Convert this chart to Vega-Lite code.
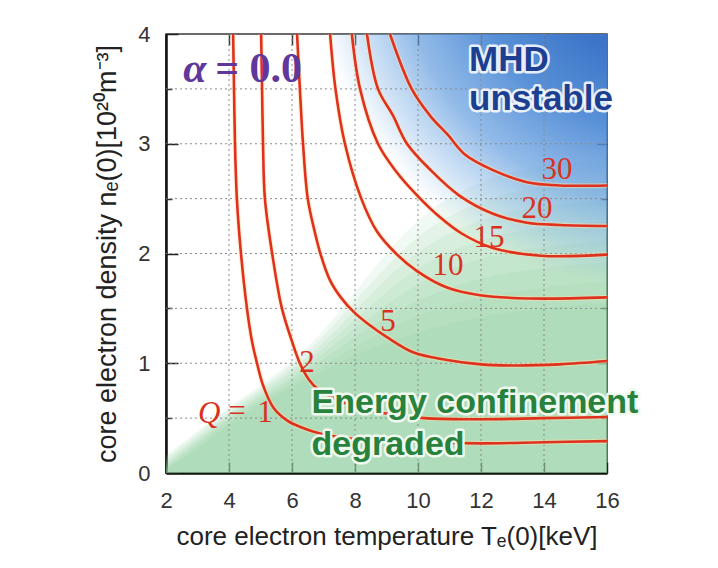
{
 "$schema": "https://vega.github.io/schema/vega-lite/v6.json",
 "width": 441, "height": 439,
 "autosize": {"type": "none"},
 "padding": {"left": 166, "top": 34, "right": 111, "bottom": 95},
 "background": "white",
 "config": {"view": {"stroke": "#3a3a3a", "strokeWidth": 1.5, "fill": "white"}, "font": "Liberation Sans"},
 "resolve": {"axis": {"x": "independent", "y": "independent"}},
 "datasets": {
  "green": [
   {"b":"g1","T":2,"n":0.16},{"b":"g1","T":3,"n":0.38},{"b":"g1","T":4,"n":0.6},{"b":"g1","T":5,"n":0.8},{"b":"g1","T":6,"n":1.02},{"b":"g1","T":7,"n":1.3},{"b":"g1","T":8,"n":1.65},{"b":"g1","T":9,"n":2.0},{"b":"g1","T":10,"n":2.3},{"b":"g1","T":12,"n":2.65},{"b":"g1","T":14,"n":2.8},{"b":"g1","T":16,"n":2.85},
   {"b":"g2","T":2,"n":0.14},{"b":"g2","T":3,"n":0.36},{"b":"g2","T":4,"n":0.58},{"b":"g2","T":5,"n":0.77},{"b":"g2","T":6,"n":0.99},{"b":"g2","T":7,"n":1.25},{"b":"g2","T":8,"n":1.57},{"b":"g2","T":9,"n":1.88},{"b":"g2","T":10,"n":2.15},{"b":"g2","T":12,"n":2.47},{"b":"g2","T":14,"n":2.61},{"b":"g2","T":16,"n":2.66},
   {"b":"g3","T":2,"n":0.11},{"b":"g3","T":3,"n":0.33},{"b":"g3","T":4,"n":0.55},{"b":"g3","T":5,"n":0.75},{"b":"g3","T":6,"n":0.95},{"b":"g3","T":7,"n":1.19},{"b":"g3","T":8,"n":1.48},{"b":"g3","T":9,"n":1.77},{"b":"g3","T":10,"n":2.01},{"b":"g3","T":12,"n":2.3},{"b":"g3","T":14,"n":2.43},{"b":"g3","T":16,"n":2.48},
   {"b":"g4","T":2,"n":0.09},{"b":"g4","T":3,"n":0.31},{"b":"g4","T":4,"n":0.53},{"b":"g4","T":5,"n":0.72},{"b":"g4","T":6,"n":0.92},{"b":"g4","T":7,"n":1.14},{"b":"g4","T":8,"n":1.4},{"b":"g4","T":9,"n":1.65},{"b":"g4","T":10,"n":1.86},{"b":"g4","T":12,"n":2.12},{"b":"g4","T":14,"n":2.24},{"b":"g4","T":16,"n":2.29},
   {"b":"g5","T":2,"n":0.07},{"b":"g5","T":3,"n":0.29},{"b":"g5","T":4,"n":0.51},{"b":"g5","T":5,"n":0.7},{"b":"g5","T":6,"n":0.88},{"b":"g5","T":7,"n":1.09},{"b":"g5","T":8,"n":1.32},{"b":"g5","T":9,"n":1.53},{"b":"g5","T":10,"n":1.72},{"b":"g5","T":12,"n":1.95},{"b":"g5","T":14,"n":2.06},{"b":"g5","T":16,"n":2.11},
   {"b":"g6","T":2,"n":0.05},{"b":"g6","T":3,"n":0.27},{"b":"g6","T":4,"n":0.49},{"b":"g6","T":5,"n":0.67},{"b":"g6","T":6,"n":0.85},{"b":"g6","T":7,"n":1.04},{"b":"g6","T":8,"n":1.24},{"b":"g6","T":9,"n":1.42},{"b":"g6","T":10,"n":1.57},{"b":"g6","T":12,"n":1.77},{"b":"g6","T":14,"n":1.87},{"b":"g6","T":16,"n":1.92},
   {"b":"g7","T":2,"n":0.04},{"b":"g7","T":3,"n":0.24},{"b":"g7","T":4,"n":0.46},{"b":"g7","T":5,"n":0.65},{"b":"g7","T":6,"n":0.81},{"b":"g7","T":7,"n":0.98},{"b":"g7","T":8,"n":1.15},{"b":"g7","T":9,"n":1.3},{"b":"g7","T":10,"n":1.43},{"b":"g7","T":12,"n":1.6},{"b":"g7","T":14,"n":1.69},{"b":"g7","T":16,"n":1.74},
   {"b":"g8","T":2,"n":0.03},{"b":"g8","T":3,"n":0.22},{"b":"g8","T":4,"n":0.44},{"b":"g8","T":5,"n":0.62},{"b":"g8","T":6,"n":0.78},{"b":"g8","T":7,"n":0.93},{"b":"g8","T":8,"n":1.07},{"b":"g8","T":9,"n":1.18},{"b":"g8","T":10,"n":1.28},{"b":"g8","T":12,"n":1.42},{"b":"g8","T":14,"n":1.5},{"b":"g8","T":16,"n":1.55}
  ],
  "frame": [{"T0": 2, "T1": 16, "n0": 0, "n1": 4}],
  "vgrid": [{"T":4},{"T":6},{"T":8},{"T":10},{"T":12},{"T":14}],
  "hgrid": [{"n":0.5},{"n":1},{"n":1.5},{"n":2},{"n":2.5},{"n":3},{"n":3.5}],
  "curves": [
   {"Q":1,"i":0,"T":4.13,"n":4.0},{"Q":1,"i":1,"T":4.16,"n":3.5},{"Q":1,"i":2,"T":4.19,"n":3.0},{"Q":1,"i":3,"T":4.25,"n":2.5},{"Q":1,"i":4,"T":4.38,"n":2.0},{"Q":1,"i":5,"T":4.57,"n":1.5},{"Q":1,"i":6,"T":4.73,"n":1.2},{"Q":1,"i":7,"T":4.89,"n":1.0},{"Q":1,"i":8,"T":5.08,"n":0.8},{"Q":1,"i":9,"T":5.4,"n":0.6},{"Q":1,"i":10,"T":5.84,"n":0.48},{"Q":1,"i":11,"T":6.35,"n":0.41},{"Q":1,"i":12,"T":6.89,"n":0.36},{"Q":1,"i":13,"T":8.0,"n":0.31},{"Q":1,"i":14,"T":10.0,"n":0.28},{"Q":1,"i":15,"T":12.0,"n":0.27},{"Q":1,"i":16,"T":14.0,"n":0.28},{"Q":1,"i":17,"T":16.0,"n":0.29},
   {"Q":2,"i":0,"T":5.02,"n":4.0},{"Q":2,"i":1,"T":5.05,"n":3.5},{"Q":2,"i":2,"T":5.08,"n":3.0},{"Q":2,"i":3,"T":5.14,"n":2.5},{"Q":2,"i":4,"T":5.37,"n":2.0},{"Q":2,"i":5,"T":5.68,"n":1.5},{"Q":2,"i":6,"T":6.0,"n":1.2},{"Q":2,"i":7,"T":6.25,"n":1.0},{"Q":2,"i":8,"T":6.54,"n":0.85},{"Q":2,"i":9,"T":6.8,"n":0.77},{"Q":2,"i":10,"T":7.4,"n":0.67},{"Q":2,"i":11,"T":8.5,"n":0.57},{"Q":2,"i":12,"T":10.2,"n":0.5},{"Q":2,"i":13,"T":12.0,"n":0.49},{"Q":2,"i":14,"T":14.0,"n":0.5},{"Q":2,"i":15,"T":16.0,"n":0.51},
   {"Q":5,"i":0,"T":6.16,"n":4.0},{"Q":5,"i":1,"T":6.25,"n":3.5},{"Q":5,"i":2,"T":6.35,"n":3.0},{"Q":5,"i":3,"T":6.5,"n":2.5},{"Q":5,"i":4,"T":6.72,"n":2.2},{"Q":5,"i":5,"T":6.9,"n":2.0},{"Q":5,"i":6,"T":7.2,"n":1.76},{"Q":5,"i":7,"T":7.55,"n":1.6},{"Q":5,"i":8,"T":7.95,"n":1.47},{"Q":5,"i":9,"T":8.45,"n":1.35},{"Q":5,"i":10,"T":9.0,"n":1.24},{"Q":5,"i":11,"T":9.84,"n":1.1},{"Q":5,"i":12,"T":10.92,"n":1.03},{"Q":5,"i":13,"T":12.0,"n":0.99},{"Q":5,"i":14,"T":13.0,"n":0.98},{"Q":5,"i":15,"T":14.5,"n":0.99},{"Q":5,"i":16,"T":16.0,"n":1.02},
   {"Q":10,"i":0,"T":7.21,"n":4.0},{"Q":10,"i":1,"T":7.38,"n":3.5},{"Q":10,"i":2,"T":7.68,"n":3.0},{"Q":10,"i":3,"T":8.2,"n":2.5},{"Q":10,"i":4,"T":8.7,"n":2.2},{"Q":10,"i":5,"T":9.3,"n":2.0},{"Q":10,"i":6,"T":9.97,"n":1.84},{"Q":10,"i":7,"T":10.92,"n":1.69},{"Q":10,"i":8,"T":11.97,"n":1.62},{"Q":10,"i":9,"T":13.5,"n":1.59},{"Q":10,"i":10,"T":16.0,"n":1.6},
   {"Q":15,"i":0,"T":7.9,"n":4.0},{"Q":15,"i":1,"T":8.16,"n":3.5},{"Q":15,"i":2,"T":8.73,"n":3.0},{"Q":15,"i":3,"T":9.3,"n":2.75},{"Q":15,"i":4,"T":9.97,"n":2.53},{"Q":15,"i":5,"T":10.7,"n":2.33},{"Q":15,"i":6,"T":11.4,"n":2.18},{"Q":15,"i":7,"T":12.38,"n":2.05},{"Q":15,"i":8,"T":13.9,"n":1.98},{"Q":15,"i":9,"T":16.0,"n":1.99},
   {"Q":20,"i":0,"T":8.38,"n":4.0},{"Q":20,"i":1,"T":8.73,"n":3.5},{"Q":20,"i":2,"T":9.2,"n":3.26},{"Q":20,"i":3,"T":9.65,"n":3.0},{"Q":20,"i":4,"T":10.4,"n":2.76},{"Q":20,"i":5,"T":11.3,"n":2.53},{"Q":20,"i":6,"T":12.4,"n":2.36},{"Q":20,"i":7,"T":13.46,"n":2.28},{"Q":20,"i":8,"T":14.5,"n":2.26},{"Q":20,"i":9,"T":16.0,"n":2.25},
   {"Q":30,"i":0,"T":9.11,"n":4.0},{"Q":30,"i":1,"T":9.8,"n":3.5},{"Q":30,"i":2,"T":10.4,"n":3.25},{"Q":30,"i":3,"T":10.95,"n":3.08},{"Q":30,"i":4,"T":11.5,"n":2.9},{"Q":30,"i":5,"T":12.38,"n":2.76},{"Q":30,"i":6,"T":13.46,"n":2.65},{"Q":30,"i":7,"T":14.5,"n":2.62},{"Q":30,"i":8,"T":16.0,"n":2.62}
  ],
  "nums": [
   {"t":"30","T":14.41,"n":2.76},{"t":"20","T":13.78,"n":2.41},{"t":"15","T":12.25,"n":2.14},{"t":"10","T":10.95,"n":1.89},{"t":"5","T":9.05,"n":1.38},{"t":"2","T":6.48,"n":1.0},{"t":"1","T":5.14,"n":0.55},{"t":"=","T":4.25,"n":0.56}
  ],
  "notes": [
   {"kind":"q","t":"Q","T":3.37,"n":0.54},
   {"kind":"alpha","t":"α","T":2.55,"n":3.56},
   {"kind":"alpha0","t":"= 0.0","T":3.56,"n":3.56},
   {"kind":"mhd","t":"MHD","T":11.62,"n":3.66},
   {"kind":"mhd","t":"unstable","T":11.62,"n":3.31},
   {"kind":"energy","t":"Energy confinement","T":6.62,"n":0.547},
   {"kind":"energy","t":"degraded","T":6.62,"n":0.164}
  ]
 },
 "layer": [
  {
   "data": {"name": "green"},
   "mark": {"type": "area", "interpolate": "monotone", "color": "#8bcf9c"},
   "encoding": {
    "x": {"field": "T", "type": "quantitative", "scale": {"domain": [2, 16], "nice": false, "zero": false},
     "axis": {"orient": "bottom", "values": [2,4,6,8,10,12,14,16], "tickSize": -11, "tickWidth": 1.5, "tickColor": "#222", "domainColor": "#111", "domainWidth": 2.5, "labelFontSize": 22, "labelColor": "#333", "labelPadding": 28, "labelFont": "Liberation Sans", "labelFlush": false, "grid": false,
      "title": "core electron temperature Tₑ(0)[keV]", "titleFont": "Liberation Sans", "titleFontSize": 26, "titleFontWeight": "normal", "titleColor": "#222", "titlePadding": 12}},
    "y": {"field": "n", "type": "quantitative", "stack": null, "scale": {"domain": [0, 4], "nice": false},
     "axis": {"orient": "left", "values": [0,1,2,3,4], "tickSize": -12, "tickWidth": 1.5, "tickColor": "#222", "domainColor": "#111", "domainWidth": 2.5, "labelFontSize": 22, "labelColor": "#333", "labelPadding": 28, "labelFont": "Liberation Sans", "labelFlush": false, "grid": false,
      "title": "core electron density nₑ(0)[10²⁰m⁻³]", "titleFont": "Liberation Sans", "titleFontSize": 27, "titleFontWeight": "normal", "titleColor": "#222", "titlePadding": 16}},
    "y2": {"datum": 0},
    "detail": {"field": "b"},
    "opacity": {"field": "b", "type": "ordinal", "scale": {"domain": ["g1","g2","g3","g4","g5","g6","g7","g8"], "range": [0.125,0.143,0.167,0.2,0.25,0.333,0.5,1]}, "legend": null}
   }
  },
  {
   "data": {"name": "frame"},
   "mark": {"type": "rect", "color": {"gradient": "radial", "x1": 1.12, "y1": -0.213, "r1": 0, "x2": 1.12, "y2": -0.213, "r2": 0.794,
     "stops": [{"offset": 0, "color": "#356cc0"}, {"offset": 0.35, "color": "#3d76c8"}, {"offset": 0.55, "color": "rgba(74,135,212,0.92)"}, {"offset": 0.75, "color": "rgba(88,150,220,0.65)"}, {"offset": 0.9, "color": "rgba(110,168,228,0.3)"}, {"offset": 1, "color": "rgba(130,180,232,0)"}]}},
   "encoding": {
    "x": {"field": "T0", "type": "quantitative", "scale": {"domain": [2, 16], "nice": false, "zero": false},
     "axis": {"orient": "top", "values": [4,6,8,10,12,14], "tickSize": -11, "tickWidth": 1.5, "tickColor": "#333", "domain": false, "labels": false, "title": null, "grid": false}},
    "x2": {"field": "T1"},
    "y": {"field": "n0", "type": "quantitative", "scale": {"domain": [0, 4], "nice": false},
     "axis": {"orient": "left", "values": [0.5,1.5,2.5,3.5], "tickSize": -6, "tickWidth": 1.5, "tickColor": "#333", "domain": false, "labels": false, "title": null, "grid": false}},
    "y2": {"field": "n1"}
   }
  },
  {
   "data": {"name": "vgrid"},
   "mark": {"type": "rule", "color": "#8a8a8a", "strokeWidth": 1, "strokeDash": [2, 3]},
   "encoding": {"x": {"field": "T", "type": "quantitative", "scale": {"domain": [2, 16], "nice": false, "zero": false}, "axis": null}}
  },
  {
   "data": {"name": "hgrid"},
   "mark": {"type": "rule", "color": "#8a8a8a", "strokeWidth": 1, "strokeDash": [2, 3]},
   "encoding": {"y": {"field": "n", "type": "quantitative", "scale": {"domain": [0, 4], "nice": false},
     "axis": {"orient": "right", "values": [1,2,3], "tickSize": -10, "tickWidth": 1.5, "tickColor": "#333", "domain": false, "labels": false, "title": null, "grid": false}}}
  },
  {
   "data": {"name": "curves"},
   "mark": {"type": "line", "interpolate": "catmull-rom", "color": "#ffe0a8", "strokeWidth": 5, "opacity": 0.45},
   "encoding": {
    "x": {"field": "T", "type": "quantitative", "scale": {"domain": [2, 16], "nice": false, "zero": false}, "axis": null},
    "y": {"field": "n", "type": "quantitative", "scale": {"domain": [0, 4], "nice": false}, "axis": null},
    "detail": {"field": "Q"},
    "order": {"field": "i", "type": "quantitative"}
   }
  },
  {
   "data": {"name": "curves"},
   "mark": {"type": "line", "interpolate": "catmull-rom", "color": "#e0301e", "strokeWidth": 2.6},
   "encoding": {
    "x": {"field": "T", "type": "quantitative", "scale": {"domain": [2, 16], "nice": false, "zero": false}, "axis": null},
    "y": {"field": "n", "type": "quantitative", "scale": {"domain": [0, 4], "nice": false},
     "axis": {"orient": "right", "values": [0.5,1.5,2.5,3.5], "tickSize": -6, "tickWidth": 1.5, "tickColor": "#333", "domain": false, "labels": false, "title": null, "grid": false}},
    "detail": {"field": "Q"},
    "order": {"field": "i", "type": "quantitative"}
   }
  },
  {
   "data": {"name": "nums"},
   "mark": {"type": "text", "font": "Liberation Serif", "fontSize": 31, "color": "#d8321f", "align": "center", "baseline": "middle"},
   "encoding": {
    "x": {"field": "T", "type": "quantitative", "scale": {"domain": [2, 16], "nice": false, "zero": false}, "axis": null},
    "y": {"field": "n", "type": "quantitative", "scale": {"domain": [0, 4], "nice": false}, "axis": null},
    "text": {"field": "t"}
   }
  },
  {
   "data": {"name": "notes"},
   "transform": [{"filter": "datum.kind == 'q'"}],
   "mark": {"type": "text", "font": "Liberation Serif", "fontSize": 31, "fontStyle": "italic", "color": "#d8321f", "align": "center", "baseline": "middle"},
   "encoding": {
    "x": {"field": "T", "type": "quantitative", "scale": {"domain": [2, 16], "nice": false, "zero": false}, "axis": null},
    "y": {"field": "n", "type": "quantitative", "scale": {"domain": [0, 4], "nice": false}, "axis": null},
    "text": {"field": "t"}
   }
  },
  {
   "data": {"name": "notes"},
   "transform": [{"filter": "datum.kind == 'alpha'"}],
   "mark": {"type": "text", "font": "Liberation Serif", "fontSize": 42, "fontStyle": "italic", "fontWeight": "bold", "color": "#60389c", "align": "left", "baseline": "alphabetic"},
   "encoding": {
    "x": {"field": "T", "type": "quantitative", "scale": {"domain": [2, 16], "nice": false, "zero": false}, "axis": null},
    "y": {"field": "n", "type": "quantitative", "scale": {"domain": [0, 4], "nice": false}, "axis": null},
    "text": {"field": "t"}
   }
  },
  {
   "data": {"name": "notes"},
   "transform": [{"filter": "datum.kind == 'alpha0'"}],
   "mark": {"type": "text", "font": "Liberation Serif", "fontSize": 42, "fontWeight": "bold", "color": "#60389c", "align": "left", "baseline": "alphabetic"},
   "encoding": {
    "x": {"field": "T", "type": "quantitative", "scale": {"domain": [2, 16], "nice": false, "zero": false}, "axis": null},
    "y": {"field": "n", "type": "quantitative", "scale": {"domain": [0, 4], "nice": false}, "axis": null},
    "text": {"field": "t"}
   }
  },
  {
   "data": {"name": "notes"},
   "transform": [{"filter": "datum.kind == 'mhd'"}],
   "mark": {"type": "text", "font": "Liberation Sans", "fontSize": 35, "fontWeight": "bold", "fill": "white", "stroke": "white", "strokeWidth": 5, "strokeJoin": "round", "strokeOpacity": 0.85, "align": "left", "baseline": "alphabetic"},
   "encoding": {
    "x": {"field": "T", "type": "quantitative", "scale": {"domain": [2, 16], "nice": false, "zero": false}, "axis": null},
    "y": {"field": "n", "type": "quantitative", "scale": {"domain": [0, 4], "nice": false}, "axis": null},
    "text": {"field": "t"}
   }
  },
  {
   "data": {"name": "notes"},
   "transform": [{"filter": "datum.kind == 'mhd'"}],
   "mark": {"type": "text", "font": "Liberation Sans", "fontSize": 35, "fontWeight": "bold", "color": "#1c3f91", "align": "left", "baseline": "alphabetic"},
   "encoding": {
    "x": {"field": "T", "type": "quantitative", "scale": {"domain": [2, 16], "nice": false, "zero": false}, "axis": null},
    "y": {"field": "n", "type": "quantitative", "scale": {"domain": [0, 4], "nice": false}, "axis": null},
    "text": {"field": "t"}
   }
  },
  {
   "data": {"name": "notes"},
   "transform": [{"filter": "datum.kind == 'energy'"}],
   "mark": {"type": "text", "font": "Liberation Sans", "fontSize": 34, "fontWeight": "bold", "fill": "#eef8ee", "stroke": "#eef8ee", "strokeWidth": 5, "strokeJoin": "round", "align": "left", "baseline": "alphabetic"},
   "encoding": {
    "x": {"field": "T", "type": "quantitative", "scale": {"domain": [2, 16], "nice": false, "zero": false}, "axis": null},
    "y": {"field": "n", "type": "quantitative", "scale": {"domain": [0, 4], "nice": false}, "axis": null},
    "text": {"field": "t"}
   }
  },
  {
   "data": {"name": "notes"},
   "transform": [{"filter": "datum.kind == 'energy'"}],
   "mark": {"type": "text", "font": "Liberation Sans", "fontSize": 34, "fontWeight": "bold", "color": "#28823c", "align": "left", "baseline": "alphabetic"},
   "encoding": {
    "x": {"field": "T", "type": "quantitative", "scale": {"domain": [2, 16], "nice": false, "zero": false}, "axis": null},
    "y": {"field": "n", "type": "quantitative", "scale": {"domain": [0, 4], "nice": false}, "axis": null},
    "text": {"field": "t"}
   }
  }
 ]
}
